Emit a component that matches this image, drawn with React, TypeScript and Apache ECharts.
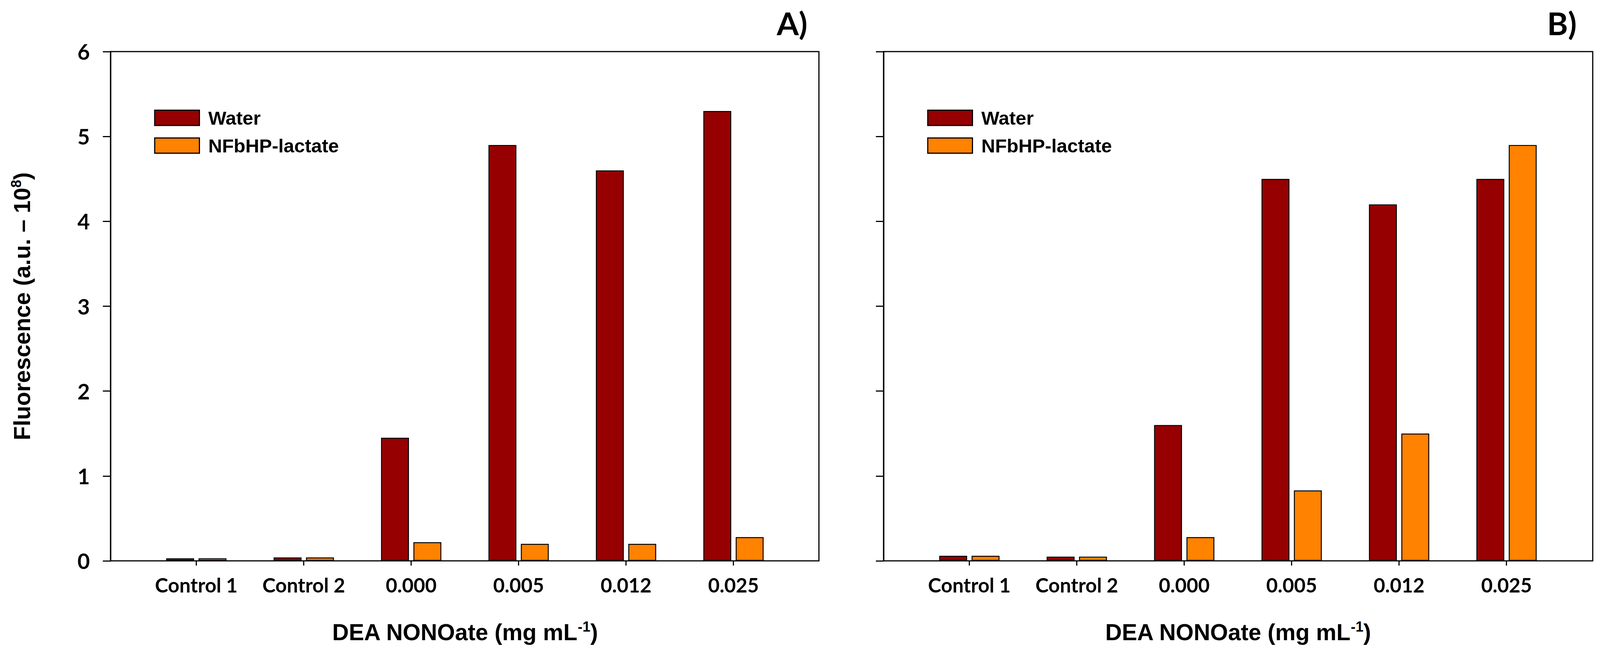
import React, { useEffect, useRef } from "react";
import * as echarts from "echarts";

const categories = ["Control 1", "Control 2", "0.000", "0.005", "0.012", "0.025"];
const seriesNames = ["Water", "NFbHP-lactate"];
const waterA = [0.03, 0.04, 1.45, 4.9, 4.6, 5.3];
const lactateA = [0.03, 0.04, 0.22, 0.2, 0.2, 0.28];
const waterB = [0.06, 0.05, 1.6, 4.5, 4.2, 4.5];
const lactateB = [0.06, 0.05, 0.28, 0.83, 1.5, 4.9];
const yMin = 0;
const yMax = 6;
const yInterval = 1;
const panelLabels = ["A)", "B)"];

const WATER_COLOR = "#960000";
const LACTATE_COLOR = "#FF8200";
const TICK_FONT = "Lato";
const TITLE_FONT = "Liberation Sans";
const REF_W = 4185;
const REF_H = 1681;

export default function App() {
  const ref = useRef<HTMLDivElement>(null);

  useEffect(() => {
    document.body.style.margin = "0";
    document.body.style.overflow = "hidden";
    const W = document.documentElement.clientWidth || window.innerWidth || REF_W;
    const H = window.innerHeight || REF_H;
    const el = ref.current!;
    el.style.width = W + "px";
    el.style.height = H + "px";
    const sx = W / REF_W;
    const sy = H / REF_H;
    const sf = Math.min(sx, sy);
    const X = (v: number) => v * sx;
    const Y = (v: number) => v * sy;
    const F = (v: number) => v * sf;

    const chart = echarts.init(el, null, { renderer: "svg", width: W, height: H });

    const top = Y(132);
    const height = Y(1303);
    const frames = [
      { left: X(289), width: X(1853), dataLeft: X(373), dataWidth: X(1686), showLabels: true },
      { left: X(2311), width: X(1855), dataLeft: X(2395), dataWidth: X(1686), showLabels: false },
    ];

    const grids: any[] = [];
    const xAxes: any[] = [];
    const yAxes: any[] = [];
    frames.forEach((f) => {
      grids.push({
        left: f.left,
        top,
        width: f.width,
        height,
        show: true,
        borderColor: "#000",
        borderWidth: F(3),
        backgroundColor: "transparent",
      });
      grids.push({ left: f.dataLeft, top, width: f.dataWidth, height });
    });

    const titleRich = {
      a: { fontFamily: TITLE_FONT, fontWeight: "bold", fontSize: F(60), color: "#000" },
      s: {
        fontFamily: TITLE_FONT,
        fontWeight: "bold",
        fontSize: F(37),
        color: "#000",
        padding: [0, 0, F(30), 0],
      },
    };

    frames.forEach((f, i) => {
      const frameGrid = i * 2;
      const dataGrid = i * 2 + 1;
      xAxes.push({
        type: "value",
        gridIndex: frameGrid,
        min: 0,
        max: 1,
        show: false,
      });
      xAxes.push({
        type: "category",
        gridIndex: dataGrid,
        data: categories,
        boundaryGap: true,
        axisLine: { show: false },
        axisTick: {
          show: true,
          alignWithLabel: true,
          length: Y(12),
          lineStyle: { color: "#000", width: F(3) },
        },
        axisLabel: {
          interval: 0,
          margin: Y(36),
          color: "#000",
          fontFamily: TICK_FONT,
          fontWeight: "bold",
          fontSize: F(52),
        },
        splitLine: { show: false },
        name: "{a|DEA NONOate (mg mL}{s|-1}{a|)}",
        nameLocation: "middle",
        nameGap: Y(150),
        nameTextStyle: { rich: titleRich },
      });
      yAxes.push({
        type: "value",
        gridIndex: frameGrid,
        min: yMin,
        max: yMax,
        interval: yInterval,
        axisLine: { show: true, lineStyle: { color: "#000", width: F(3) } },
        axisTick: { show: true, inside: false, length: X(20), lineStyle: { color: "#000", width: F(3) } },
        axisLabel: {
          show: f.showLabels,
          margin: X(54),
          color: "#000",
          fontFamily: TICK_FONT,
          fontWeight: "bold",
          fontSize: F(56),
        },
        splitLine: { show: false },
        name: f.showLabels ? "{a|Fluorescence (a.u. – 10}{s|8}{a|)}" : "",
        nameLocation: "middle",
        nameGap: X(198),
        nameRotate: 90,
        nameTextStyle: { rich: titleRich },
      });
      yAxes.push({
        type: "value",
        gridIndex: dataGrid,
        min: yMin,
        max: yMax,
        interval: yInterval,
        show: false,
      });
    });

    const mkBar = (name: string, data: number[], color: string, idx: number) => ({
      type: "bar",
      name,
      xAxisIndex: idx,
      yAxisIndex: idx,
      data,
      barWidth: X(73),
      barGap: "16%",
      itemStyle: { color, borderColor: "#000", borderWidth: F(2.5) },
    });

    const legendBase = (left: number) => ({
      orient: "vertical",
      left: X(left),
      top: Y(272),
      icon: "rect",
      itemWidth: X(117),
      itemHeight: Y(39),
      itemGap: Y(22),
      data: seriesNames,
      itemStyle: { borderColor: "#000", borderWidth: F(3) },
      textStyle: {
        fontFamily: TITLE_FONT,
        fontWeight: "bold",
        fontSize: F(50),
        lineHeight: F(50),
        color: "#000",
        padding: [0, 0, 0, X(18)],
      },
    });

    const panelLabel = (text: string, x: number) => ({
      type: "text",
      x: X(x),
      y: Y(58),
      style: {
        text,
        font: `bold ${F(83)}px Lato`,
        fill: "#000",
        align: "right",
        verticalAlign: "middle",
        textAlign: "right",
        textVerticalAlign: "middle",
      },
    });

    chart.setOption({
      animation: false,
      backgroundColor: "#fff",
      grid: grids,
      xAxis: xAxes,
      yAxis: yAxes,
      legend: [legendBase(398), legendBase(2420)],
      series: [
        mkBar(seriesNames[0], waterA, WATER_COLOR, 1),
        mkBar(seriesNames[1], lactateA, LACTATE_COLOR, 1),
        mkBar(seriesNames[0], waterB, WATER_COLOR, 3),
        mkBar(seriesNames[1], lactateB, LACTATE_COLOR, 3),
      ],
      graphic: [panelLabel(panelLabels[0], 2112), panelLabel(panelLabels[1], 4124)],
    });

    return () => chart.dispose();
  }, []);

  return <div ref={ref} style={{ width: REF_W, height: REF_H }} />;
}
